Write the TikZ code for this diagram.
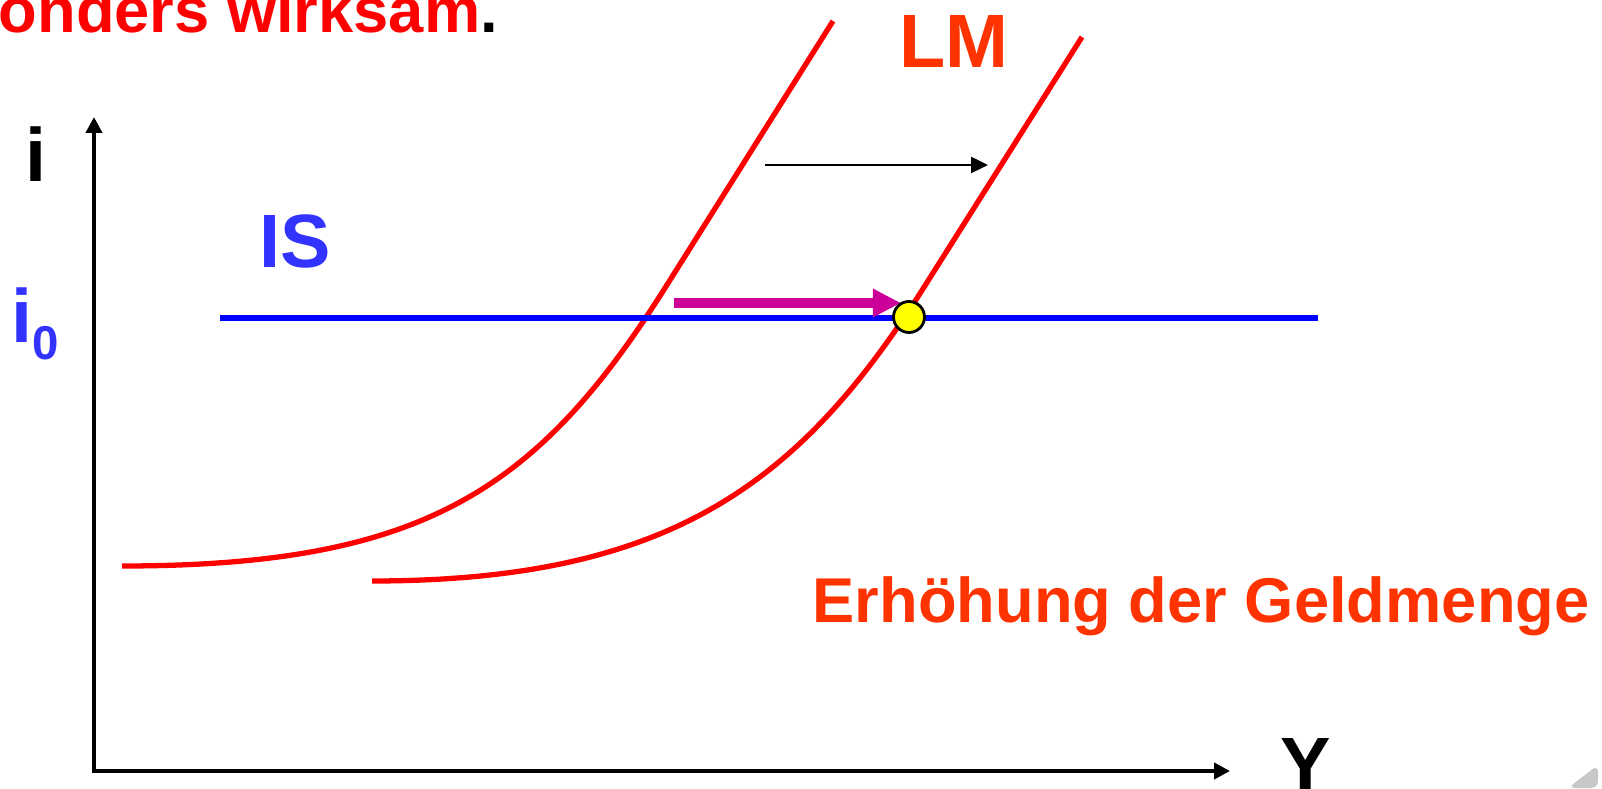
\documentclass[tikz,border=0pt]{standalone}
\usepackage{fontspec}
\setmainfont{Liberation Sans}
\usetikzlibrary{arrows.meta}
\definecolor{lmred}{HTML}{FF0000}
\definecolor{labelred}{HTML}{FF3300}
\definecolor{isblue}{HTML}{0000FF}
\definecolor{labelblue}{HTML}{3333FF}
\definecolor{pushmagenta}{HTML}{CC0099}
\definecolor{eqyellow}{HTML}{FFFF00}
\definecolor{curlgray}{HTML}{C8C8C8}

\begin{document}
\begin{tikzpicture}[
    >=Triangle,
    every node/.style={inner sep=0pt},
    biglabel/.style={font=\fontsize{21.5}{24}\selectfont\bfseries},
    textlabel/.style={font=\fontsize{18}{22}\selectfont\bfseries},
    axis/.style={{Triangle[length=4.5pt,width=4.5pt]}-{Triangle[length=4.5pt,width=4.5pt]},
        line width=1.3pt, line join=miter},
    lmcurve/.style={lmred, line width=1.5pt},
    isline/.style={isblue, line width=1.6pt},
    shiftarrow/.style={-{Triangle[length=4.8pt,width=4.5pt]}, line width=0.75pt},
    pusharrow/.style={-{Triangle[length=8pt,width=7.6pt]}, pushmagenta, line width=2.6pt},
    eqdot/.style={circle, draw=black, line width=0.8pt, fill=eqyellow, minimum size=0.31cm}
]
\useasboundingbox (0,0) rectangle (16.02,7.88);

% axes
\coordinate (origin) at (0.94,0.17);
\coordinate (itop) at (0.94,6.71);
\coordinate (yend) at (12.30,0.17);
\draw[axis] (itop) -- (origin) -- (yend);

\node[biglabel, anchor=base] (ilabel) at (0.36,6.06) {i};
\node[biglabel, anchor=base] (ylabel) at (13.06,-0.03) {Y};
\node[biglabel, text=labelblue, anchor=base west] (izero) at (0.11,4.45)
    {i\raisebox{-0.22em}{\fontsize{13.5}{15}\selectfont 0}};

% LM curves
\draw[lmcurve] (1.22,2.22) .. controls (4.22,2.22) and (5.37,2.97) .. (6.65,5.00) -- (8.33,7.67);
\draw[lmcurve] (3.72,2.07) .. controls (6.72,2.07) and (8.005,3.06) .. (9.235,5.00) -- (10.82,7.51);

% IS
\coordinate (isstart) at (2.20,4.70);
\coordinate (isend) at (13.18,4.70);
\draw[isline] (isstart) -- (isend);

\coordinate (shiftstart) at (7.65,6.23);
\coordinate (shiftend) at (9.88,6.23);
\draw[shiftarrow] (shiftstart) -- (shiftend);

\coordinate (pushstart) at (6.74,4.85);
\coordinate (pushend) at (9.01,4.85);
\draw[pusharrow] (pushstart) -- (pushend);

\node[eqdot] (eq) at (9.09,4.71) {};

\node[biglabel, text=labelblue, anchor=base] (islabel) at (2.95,5.20) {IS};
\node[biglabel, text=labelred, anchor=base] (lmlabel) at (9.54,7.20) {LM};
\node[textlabel, text=labelred, anchor=base west] (geldmenge) at (8.12,1.65) {Erhöhung der Geldmenge};
\node[textlabel, text=lmred, anchor=base west] (toptext) at (-0.02,7.55)
    {onders wirksam\textcolor{black}{.}};

\fill[curlgray, rounded corners=2pt] (15.68,0) -- (15.98,0.23) -- (15.98,0) -- cycle;

\end{tikzpicture}
\end{document}
